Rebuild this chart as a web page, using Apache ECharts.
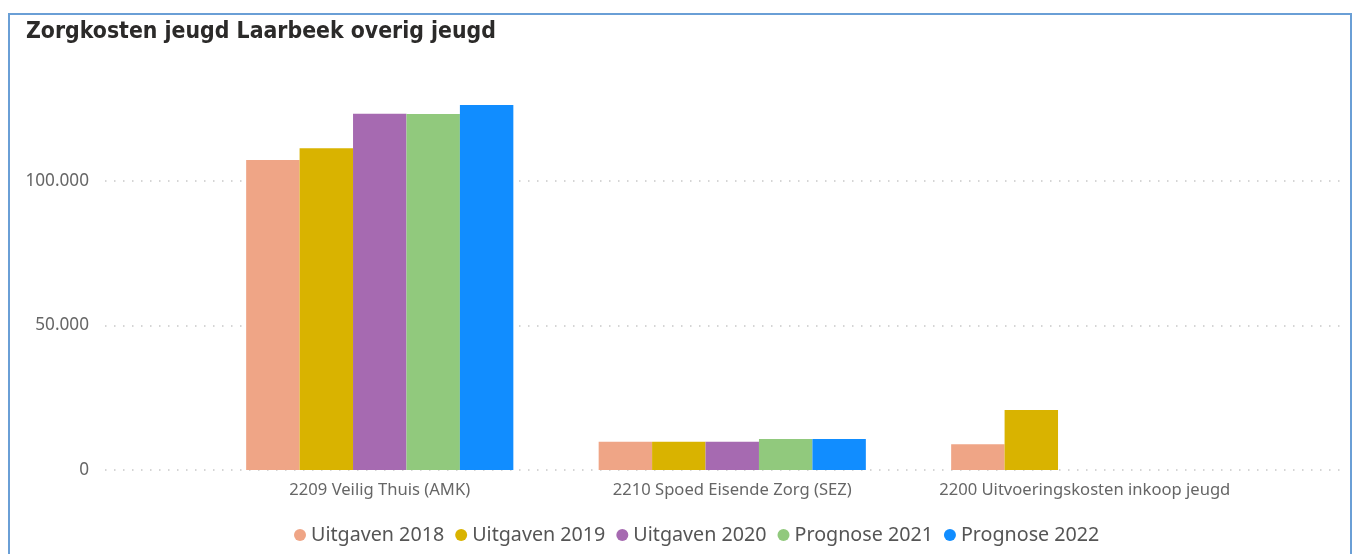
<!DOCTYPE html>
<html>
<head>
<meta charset="utf-8">
<script src="https://cdn.jsdelivr.net/npm/echarts@6/dist/echarts.min.js"></script>
<style>
  html, body { margin: 0; padding: 0; background: #fff; }
  #chart { width: 1353px; height: 554px; }
</style>
</head>
<body>
<div id="chart"></div>
<script>
// Cost categories (x axis)
const categories = [
  '2209 Veilig Thuis (AMK)',
  '2210 Spoed Eisende Zorg (SEZ)',
  '2200 Uitvoeringskosten inkoop jeugd'
];

// Yearly amounts per category
const uitgaven2018 = [107300, 9800, 8900];
const uitgaven2019 = [111300, 9800, 20800];
const uitgaven2020 = [123300, 9800, null];
const prognose2021 = [123200, 10700, null];
const prognose2022 = [126300, 10700, null];

const seriesNames = ['Uitgaven 2018', 'Uitgaven 2019', 'Uitgaven 2020', 'Prognose 2021', 'Prognose 2022'];
const seriesData = [uitgaven2018, uitgaven2019, uitgaven2020, prognose2021, prognose2022];
const seriesColors = ['#EFA586', '#D9B300', '#A66AB1', '#91C97D', '#118DFF'];

// Value axis ticks
const yMin = 0;
const yMax = 150000;
const yInterval = 50000;

const labelFont = '"Noto Sans", "Open Sans", sans-serif';

function fmt(v) {
  return String(v).replace(/\B(?=(\d{3})+(?!\d))/g, '.');
}

const chart = echarts.init(document.getElementById('chart'), null, { renderer: 'canvas' });

const option = {
  animation: false,
  backgroundColor: '#ffffff',
  title: {
    text: 'Zorgkosten jeugd Laarbeek overig jeugd',
    left: 21,
    top: 16,
    textStyle: {
      fontFamily: '"DejaVu Sans Condensed", "DejaVu Sans", sans-serif',
      fontSize: 22.8,
      fontWeight: 'bold',
      color: '#2b2a29'
    }
  },
  graphic: [{
    type: 'rect',
    shape: { x: 9, y: 14, width: 1342, height: 600 },
    style: { fill: 'none', stroke: '#6A9FD6', lineWidth: 2 },
    silent: true,
    z: 0
  }],
  legend: {
    left: 289,
    top: 520,
    icon: 'circle',
    itemWidth: 12,
    itemHeight: 12,
    itemGap: 11,
    textStyle: { fontFamily: labelFont, fontSize: 19.7, color: '#555555' },
    data: seriesNames
  },
  grid: [
    { left: 105, right: 6, top: 36.5, bottom: 84 },
    { left: 203.5, right: 92, top: 36.5, bottom: 84 }
  ],
  xAxis: [
    {
      gridIndex: 0, type: 'value', show: false, min: 0, max: 1
    },
    {
      gridIndex: 1,
      type: 'category',
      data: categories,
      axisLine: { show: false },
      axisTick: { show: false },
      axisLabel: {
        margin: 12,
        fontFamily: labelFont,
        fontSize: 16.6,
        color: '#666666',
        interval: 0
      }
    }
  ],
  yAxis: [
    {
      gridIndex: 0,
      type: 'value',
      min: yMin, max: yMax, interval: yInterval,
      axisLine: { show: false },
      axisTick: { show: false },
      axisLabel: {
        margin: 16,
        fontFamily: labelFont,
        fontSize: 17.2,
        color: '#666666',
        showMaxLabel: false,
        formatter: fmt
      },
      splitLine: {
        show: true,
        showMaxLine: false,
        lineStyle: { color: '#C8C8C8', width: 1.5, type: [1.5, 7.5] }
      }
    },
    {
      gridIndex: 1,
      type: 'value',
      min: yMin, max: yMax, interval: yInterval,
      show: false,
      splitLine: { show: false }
    }
  ],
  series: seriesNames.map((name, i) => ({
    name: name,
    type: 'bar',
    xAxisIndex: 1,
    yAxisIndex: 1,
    data: seriesData[i],
    barGap: '0%',
    barCategoryGap: '24.2%',
    itemStyle: { color: seriesColors[i] },
    color: seriesColors[i]
  }))
};

chart.setOption(option);
</script>
</body>
</html>
